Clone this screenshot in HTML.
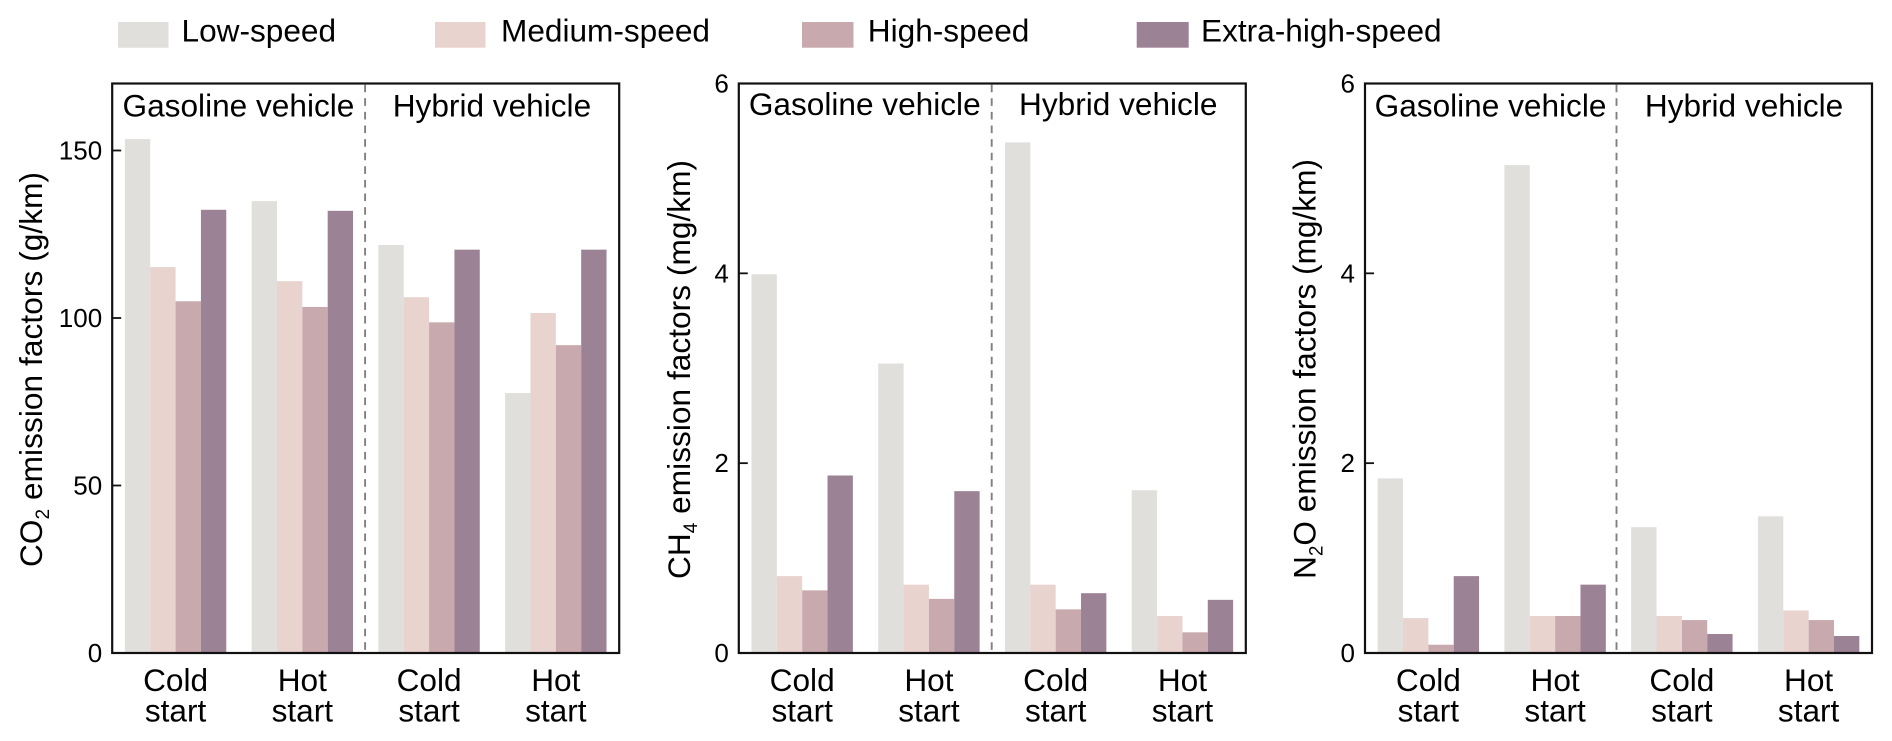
<!DOCTYPE html>
<html lang="en">
<head>
<meta charset="utf-8">
<title>Emission factors by speed phase</title>
<style>
html,body{margin:0;padding:0;background:#fff;}
svg{display:block;}
text{font-family:"Liberation Sans",Arial,sans-serif;fill:#000;}
.lbl{font-size:31.6px;}
.tick{font-size:26px;}
</style>
</head>
<body>
<svg id="chart" xmlns="http://www.w3.org/2000/svg" width="1892" height="741" viewBox="0 0 1892 741">
  <rect x="0" y="0" width="1892" height="741" fill="#fff"/>
  <g>
    <g>
      <rect x="118" y="22" width="50.5" height="25.7" fill="#E0DFDB"/>
      <text class="lbl" x="181.5" y="41.7">Low-speed</text>
    </g>
    <g>
      <rect x="435" y="22" width="50.5" height="25.7" fill="#E8D3CF"/>
      <text class="lbl" x="501" y="41.7">Medium-speed</text>
    </g>
    <g>
      <rect x="802" y="22" width="51.5" height="25.7" fill="#C8A9AD"/>
      <text class="lbl" x="867.8" y="41.7">High-speed</text>
    </g>
    <g>
      <rect x="1136.7" y="22" width="52" height="25.7" fill="#9C8295"/>
      <text class="lbl" x="1201" y="41.7">Extra-high-speed</text>
    </g>
  </g>
  <g id="plots"></g>
  <text class="lbl" transform="translate(42,567) rotate(-90)" textLength="395" lengthAdjust="spacing">CO<tspan font-size="19" dy="7">2</tspan><tspan dy="-7"> emission factors (g/km)</tspan></text>
  <text class="lbl" transform="translate(690,579) rotate(-90)" textLength="419" lengthAdjust="spacing">CH<tspan font-size="19" dy="7">4</tspan><tspan dy="-7"> emission factors (mg/km)</tspan></text>
  <text class="lbl" transform="translate(1315.5,579) rotate(-90)" textLength="420" lengthAdjust="spacing">N<tspan font-size="19" dy="7">2</tspan><tspan dy="-7">O emission factors (mg/km)</tspan></text>
</svg>
<script>
const categoryTop = ['Cold', 'Hot', 'Cold', 'Hot'];
const categoryBottom = ['start', 'start', 'start', 'start'];
const seriesNames = ['low-speed', 'medium-speed', 'high-speed', 'extra-high-speed'];
const seriesColors = ['#E0DFDB', '#E8D3CF', '#C8A9AD', '#9C8295'];
const groupTitles = ['Gasoline vehicle', 'Hybrid vehicle'];

const co2Low = [153.4, 134.9, 121.8, 77.6];
const co2Medium = [115.2, 111, 106.2, 101.5];
const co2High = [105, 103.3, 98.7, 91.9];
const co2ExtraHigh = [132.3, 132, 120.4, 120.4];
const co2Ticks = [0, 50, 100, 150];
const co2Max = 170;

const ch4Low = [3.99, 3.05, 5.38, 1.715];
const ch4Medium = [0.81, 0.72, 0.72, 0.39];
const ch4High = [0.66, 0.57, 0.46, 0.218];
const ch4ExtraHigh = [1.87, 1.705, 0.63, 0.56];
const ch4Ticks = [0, 2, 4, 6];
const ch4Max = 6;

const n2oLow = [1.84, 5.14, 1.326, 1.44];
const n2oMedium = [0.368, 0.39, 0.39, 0.449];
const n2oHigh = [0.087, 0.39, 0.347, 0.347];
const n2oExtraHigh = [0.81, 0.72, 0.2, 0.179];
const n2oTicks = [0, 2, 4, 6];
const n2oMax = 6;

const NS = 'http://www.w3.org/2000/svg';
const plots = document.getElementById('plots');
const TOP = 83.5, BOTTOM = 653, WIDTH = 507;

function make(tag, attrs, parent) {
  const el = document.createElementNS(NS, tag);
  for (const k in attrs) el.setAttribute(k, attrs[k]);
  parent.appendChild(el);
  return el;
}

function drawPanel(key, left, yMax, ticks, series, titleY, dividerShift, titleShift) {
  const g = make('g', {}, plots);
  
  

  const yScale = v => BOTTOM - (v / yMax) * (BOTTOM - TOP);
  const groupCenter = i => left + (i + 0.5) * WIDTH / categoryTop.length;
  const barWidth = (WIDTH / categoryTop.length) * 0.8 / series.length;
  const xScale = (i, s) => groupCenter(i) + (s - series.length / 2) * barWidth;

  series.forEach((values, s) => {
    values.forEach((v, i) => {
      const bar = make('rect', {
        x: xScale(i, s),
        y: yScale(v),
        width: barWidth,
        height: BOTTOM - yScale(v),
        fill: seriesColors[s]
      }, g);
      
      
    });
  });

  const midX = left + WIDTH / 2 + dividerShift;
  const divider = make('line', {
    x1: midX, x2: midX, y1: TOP + 1.2, y2: BOTTOM,
    stroke: '#808080', 'stroke-width': 1.9, 'stroke-dasharray': '7.6 6'
  }, g);
  
  

  const frame = make('rect', {
    x: left, y: TOP, width: WIDTH, height: BOTTOM - TOP,
    fill: 'none', stroke: '#111', 'stroke-width': 2.2
  }, g);
  
  

  ticks.forEach(t => {
    const mark = make('line', {
      x1: left, x2: left + 9, y1: yScale(t), y2: yScale(t),
      stroke: '#111', 'stroke-width': 1.8
    }, g);
    
    
    const label = make('text', {
      class: 'tick', x: left - 10, y: yScale(t) + 9, 'text-anchor': 'end'
    }, g);
    label.textContent = String(t);
    
    
  });

  categoryTop.forEach((c, i) => {
    const top = make('text', {
      class: 'lbl', x: groupCenter(i), y: 691, 'text-anchor': 'middle'
    }, g);
    top.textContent = c;
    
    
    const bottom = make('text', {
      class: 'lbl', x: groupCenter(i), y: 721.7, 'text-anchor': 'middle'
    }, g);
    bottom.textContent = categoryBottom[i];
    
    
  });

  groupTitles.forEach((t, i) => {
    const title = make('text', {
      class: 'lbl', x: left + WIDTH * (i === 0 ? 0.25 : 0.75) + titleShift, y: titleY, 'text-anchor': 'middle'
    }, g);
    title.textContent = t;
    
    
  });
}

drawPanel('co2', 112.2, co2Max, co2Ticks, [co2Low, co2Medium, co2High, co2ExtraHigh], 116.7, -0.6, -0.5);
drawPanel('ch4', 738.8, ch4Max, ch4Ticks, [ch4Low, ch4Medium, ch4High, ch4ExtraHigh], 115, -0.6, -0.8);
drawPanel('n2o', 1365, n2oMax, n2oTicks, [n2oLow, n2oMedium, n2oHigh, n2oExtraHigh], 116.7, -2, -1.2);
</script>
</body>
</html>
